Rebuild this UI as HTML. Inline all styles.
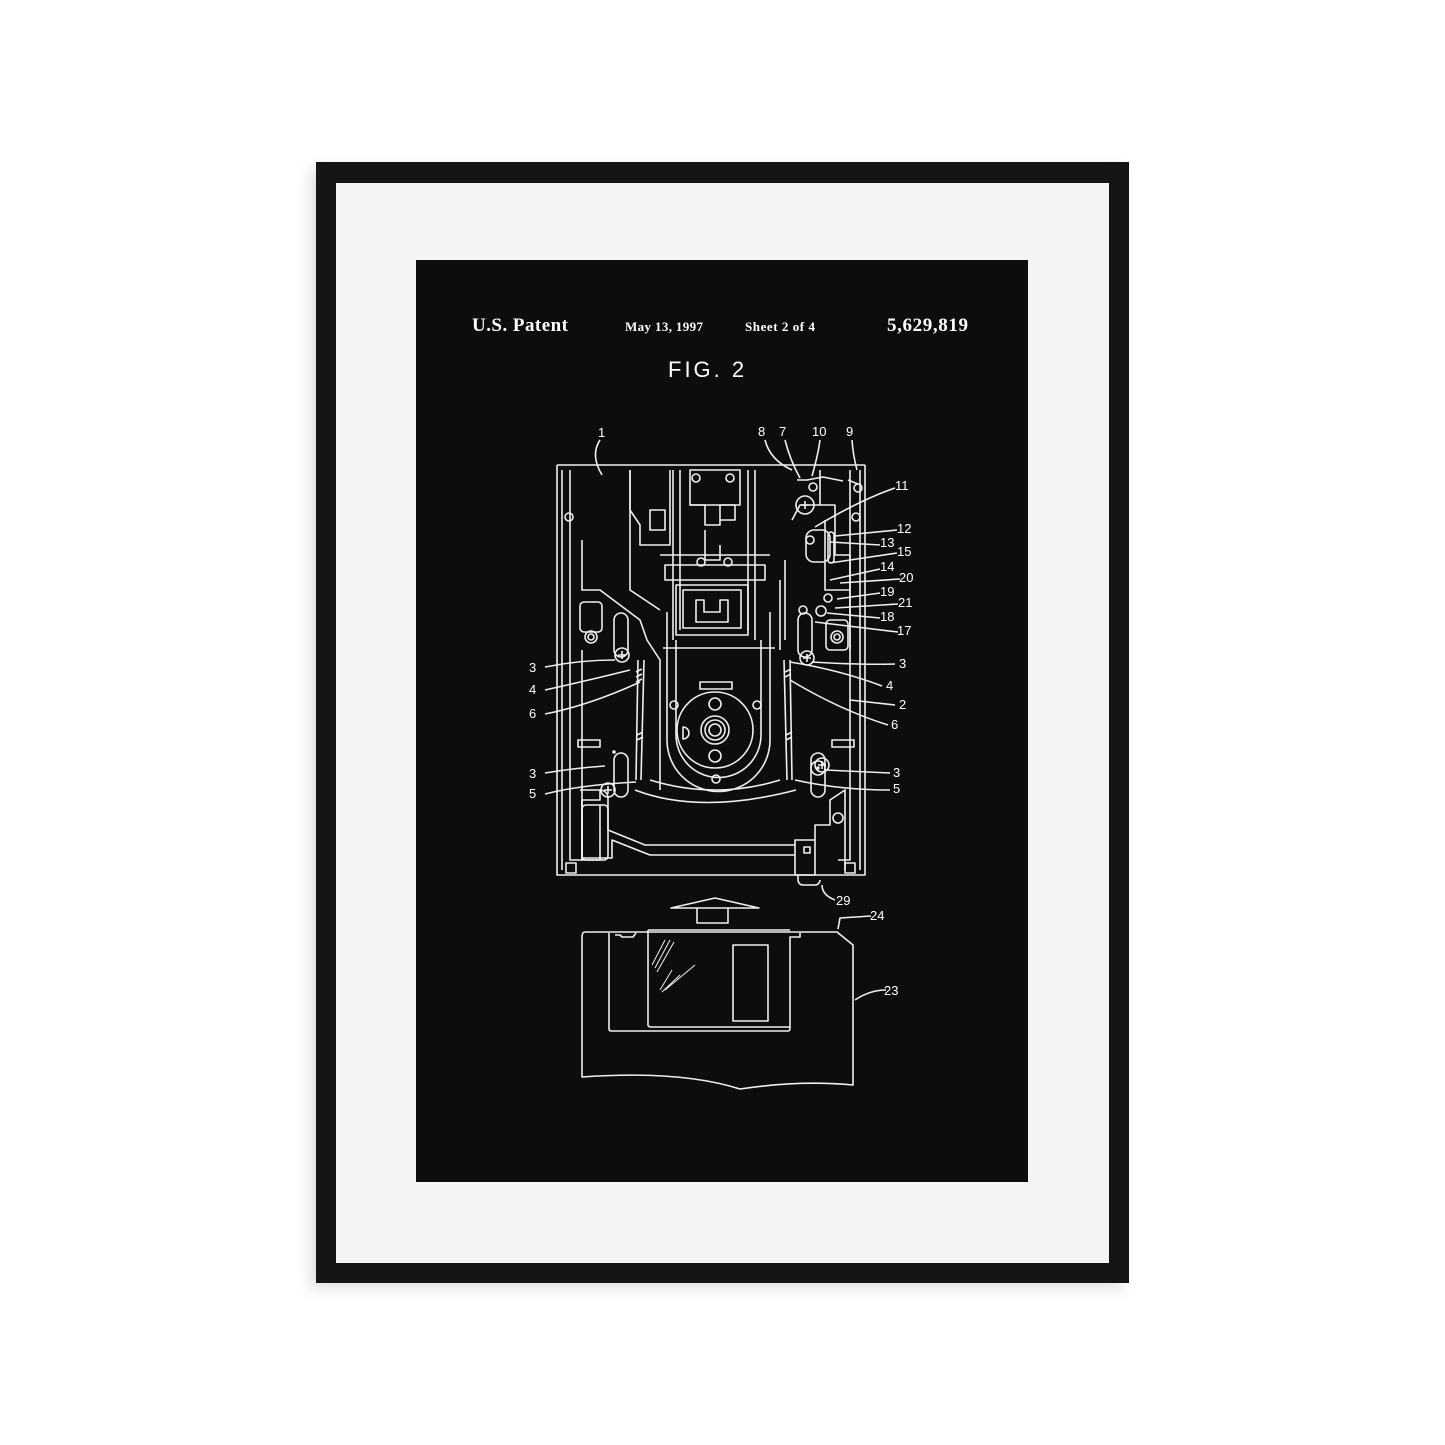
<!DOCTYPE html>
<html><head><meta charset="utf-8"><style>
html,body{margin:0;padding:0;background:#fff;}
body{width:1445px;height:1445px;position:relative;overflow:hidden;}
.frame{position:absolute;left:316px;top:162px;width:813px;height:1121px;background:#151515;box-shadow:-6px 6px 14px rgba(0,0,0,0.12);}
.mat{position:absolute;left:336px;top:183px;width:773px;height:1080px;background:#f4f4f4;}
.poster{position:absolute;left:416px;top:260px;width:612px;height:922px;background:#0d0d0d;}
svg{position:absolute;left:0;top:0;}
</style></head><body>
<div class="frame"></div><div class="mat"></div><div class="poster"></div>
<svg width="1445" height="1445" viewBox="0 0 1445 1445">
<g fill="#fff" font-family="Liberation Serif, serif" font-weight="bold">
<text x="472" y="331" font-size="19" textLength="96">U.S. Patent</text>
<text x="625" y="331" font-size="13" textLength="78">May 13, 1997</text>
<text x="745" y="331" font-size="13" textLength="70">Sheet 2 of 4</text>
<text x="887" y="331" font-size="19" textLength="81">5,629,819</text>
</g>
<text x="668" y="377" fill="#fff" font-family="Liberation Sans, sans-serif" font-size="22" letter-spacing="3">FIG. 2</text>
<g fill="none" stroke="#eee" stroke-width="1.6" stroke-linejoin="round">
<path d="M557 465 H865 M557 465 V875 H865 V465"/>
<path d="M562 470 V870 M860 470 V870"/>
<path d="M570 470 V860 H582 V650 M850 470 V860 H838"/>
<circle cx="569" cy="517" r="4"/><circle cx="856" cy="517" r="4"/>
<path d="M582 540 V590 H600 L640 620 L647 640 L660 660 V790"/>
<path d="M630 470 V590 L660 610"/>
<rect x="580" y="602" width="22" height="30" rx="4"/><circle cx="591" cy="637" r="6"/><circle cx="591" cy="637" r="3"/>
<path d="M614 620 a7 7 0 0 1 14 0 V650 a7 7 0 0 1 -14 0 Z"/>
<circle cx="622" cy="655" r="7"/><path d="M618 655 H626 M622 651 V659"/>
<path d="M614 760 a7 7 0 0 1 14 0 V790 a7 7 0 0 1 -14 0 Z"/>
<circle cx="614" cy="752" r="1"/><circle cx="608" cy="790" r="7"/><path d="M604 790 H612 M608 786 V794"/>
<rect x="578" y="740" width="22" height="7"/><rect x="832" y="740" width="22" height="7"/>
<path d="M630 470 V510 L640 525 V545 H670 V470 M650 510 H665 V530 H650 Z"/>
<path d="M673 470 V640 M680 470 V630 M755 470 V640 M748 470 V630"/>
<rect x="690" y="470" width="50" height="35"/>
<circle cx="696" cy="478" r="4"/><circle cx="730" cy="478" r="4"/>
<path d="M690 505 H705 V525 H720 V505 H735 V520 H720 M705 530 V560 H720 V545"/>
<path d="M660 555 H770 M665 565 H765 V580 H665 Z"/>
<circle cx="701" cy="562" r="4"/><circle cx="728" cy="562" r="4"/>
<rect x="676" y="585" width="72" height="50"/>
<rect x="683" y="590" width="58" height="38"/>
<path d="M696 600 H704 V612 H720 V600 H728 V622 H696 Z"/>
<path d="M667 612 V740 A48 48 0 0 0 770 740 V612"/>
<path d="M663 648 H775"/>
<path d="M676 640 V735 A40 40 0 0 0 761 735 V640"/>
<circle cx="715" cy="730" r="38"/>
<circle cx="715" cy="730" r="14"/><circle cx="715" cy="730" r="10"/><circle cx="715" cy="730" r="6"/>
<rect x="709" y="698" width="12" height="12" rx="6"/><rect x="709" y="750" width="12" height="12" rx="6"/>
<path d="M683 727 a6 6 0 0 1 0 12 Z"/>
<circle cx="674" cy="705" r="4"/><circle cx="757" cy="705" r="4"/><circle cx="716" cy="779" r="4"/>
<rect x="700" y="682" width="32" height="7"/>
<path d="M638 660 L636 780 M644 660 L641 780 M790 660 L792 780 M784 660 L787 780"/>
<path d="M636 672 l6 -3 M636 677 l6 -3 M636 682 l6 -3 M637 735 l6 -3 M637 740 l6 -3 M785 672 l6 -3 M785 677 l6 -3 M786 735 l6 -3 M786 740 l6 -3"/>
<path d="M635 790 Q700 815 796 790 M650 780 Q715 800 780 780"/>
<path d="M792 520 L800 505 H835 V555 H850 V650 M820 505 V470"/>
<rect x="806" y="530" width="24" height="32" rx="8"/><circle cx="810" cy="540" r="4"/>
<path d="M825 520 V590 H850 M828 535 a3 3 0 0 1 6 0 V560 a3 3 0 0 1 -6 0 Z"/>
<circle cx="805" cy="505" r="9"/><path d="M801 505 H809 M805 501 V509"/>
<path d="M797 480 h10 l16 -3 l20 4 M848 480 l10 4"/>
<circle cx="813" cy="487" r="4"/><circle cx="858" cy="488" r="4"/>
<circle cx="828" cy="598" r="4"/><circle cx="821" cy="611" r="5"/><circle cx="803" cy="610" r="4"/>
<rect x="826" y="620" width="22" height="30" rx="4"/><circle cx="837" cy="637" r="6"/><circle cx="837" cy="637" r="3"/>
<path d="M798 620 a7 7 0 0 1 14 0 V650 a7 7 0 0 1 -14 0 Z"/>
<circle cx="807" cy="658" r="7"/><path d="M803 658 H811 M807 654 V662"/>
<path d="M811 760 a7 7 0 0 1 14 0 V790 a7 7 0 0 1 -14 0 Z"/>
<circle cx="818" cy="768" r="7"/><circle cx="818" cy="768" r="1"/>
<circle cx="822" cy="765" r="7"/><path d="M818 765 H826 M822 761 V769"/>
<path d="M785 560 V640 M780 580 V650"/>
<path d="M580 790 H600 V800 H582 V860 H600 V805 M600 790 a8 8 0 0 1 8 8 V830 L645 845 H795"/>
<path d="M582 800 V858 H612 V840 L650 855 H795"/>
<rect x="582" y="805" width="26" height="55" rx="4"/>
<path d="M795 840 H815 V875 H795 Z M815 840 V825 H830 V800 L845 790 V870"/>
<rect x="804" y="847" width="6" height="6"/><circle cx="838" cy="818" r="5"/>
<path d="M798 875 V880 a5 5 0 0 0 5 5 H815 a5 5 0 0 0 5 -5"/>
<rect x="566" y="863" width="10" height="10"/><rect x="845" y="863" width="10" height="10"/>
<path d="M600 440 Q590 455 602 475"/>
<path d="M765 440 Q770 460 792 470 M785 440 Q790 460 800 478 M820 440 Q818 455 812 476 M852 440 Q853 455 857 470"/>
<path d="M895 488 Q860 500 815 527 M897 530 L835 536 M880 545 L830 542 M897 553 L830 563 M880 569 L830 580 M900 579 L840 583 M880 593 L837 599 M898 604 L835 608 M880 618 L827 613 M898 632 L815 622"/>
<path d="M545 667 Q580 660 615 660 M545 690 Q590 680 630 670 M545 714 Q590 705 640 682 M545 773 Q575 768 605 766 M545 794 Q580 785 636 782"/>
<path d="M895 664 Q860 665 812 662 M882 686 Q840 670 790 662 M895 705 L850 700 M888 725 Q840 710 790 680 M890 773 L825 770 M890 790 Q840 790 795 780"/>
<path d="M835 900 Q822 895 822 885"/>
<path d="M871 916 L840 918 L838 929 M886 990 Q870 990 855 1000"/>
<path d="M671 908 L715 898 L759 908 Z" fill="#0d0d0d"/>
<path d="M697 908 V923 H728 V908"/>
<path d="M585 932 H837 L853 945 V1085 Q800 1080 740 1089 Q680 1070 582 1077 V937 Q582 932 585 932 Z"/>
<path d="M609 933 V1029 Q609 1031 612 1031 H788 Q790 1031 790 1028 V937 H800 V933"/>
<path d="M648 930 V1025 Q648 1027 652 1027 H790 M648 930 H790"/>
<rect x="733" y="945" width="35" height="76"/>
<path d="M615 935 H620 L622 937 H633 L636 933"/>
<g stroke-width="1"><path d="M652 965 L665 940 M655 968 L670 940 M657 972 L674 942 M660 990 L672 970 M662 992 L680 975 M665 990 L695 965"/></g>
</g>
<g fill="#fff" font-family="Liberation Sans, sans-serif" font-size="13">
<text x="598" y="437">1</text>
<text x="758" y="436">8</text><text x="779" y="436">7</text><text x="812" y="436">10</text><text x="846" y="436">9</text>
<text x="895" y="490">11</text><text x="897" y="533">12</text><text x="880" y="547">13</text><text x="897" y="556">15</text>
<text x="880" y="571">14</text><text x="899" y="582">20</text><text x="880" y="596">19</text><text x="898" y="607">21</text>
<text x="880" y="621">18</text><text x="897" y="635">17</text>
<text x="529" y="672">3</text><text x="529" y="694">4</text><text x="529" y="718">6</text><text x="529" y="778">3</text><text x="529" y="798">5</text>
<text x="899" y="668">3</text><text x="886" y="690">4</text><text x="899" y="709">2</text><text x="891" y="729">6</text><text x="893" y="777">3</text><text x="893" y="793">5</text>
<text x="836" y="905">29</text><text x="870" y="920">24</text><text x="884" y="995">23</text>
</g>
</svg>
</body></html>
